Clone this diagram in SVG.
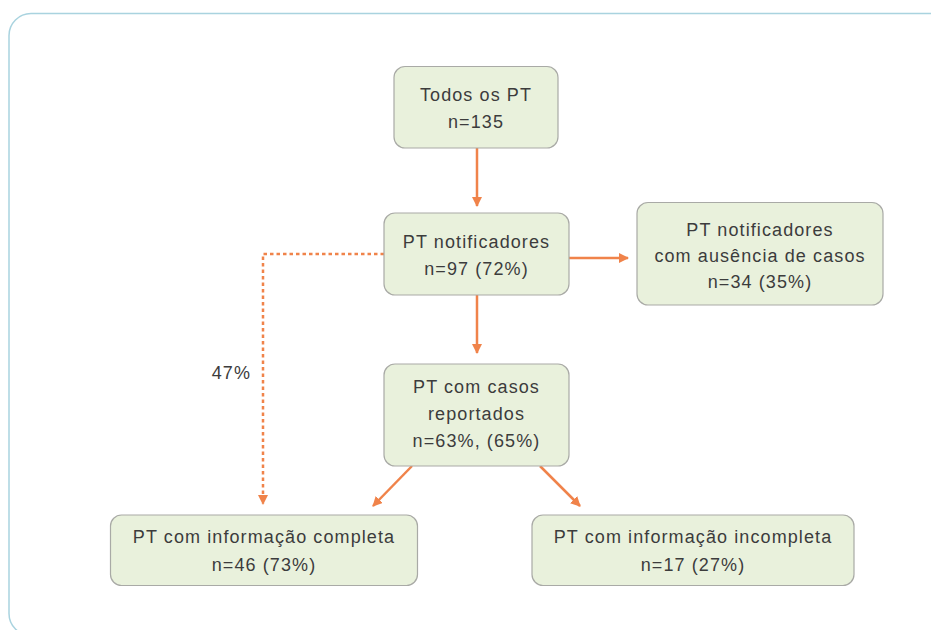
<svg xmlns="http://www.w3.org/2000/svg" width="931" height="630" viewBox="0 0 931 630">
<defs>
<style>
.box{fill:#e9f1dc;stroke:#a9aaa6;stroke-width:1.2}
.t{font-family:"Liberation Sans",Arial,sans-serif;font-size:18px;fill:#3c3c3c;text-anchor:middle;letter-spacing:1.1px}
.c{stroke:#f0834a;stroke-width:2.5;fill:none}
.d{stroke-dasharray:3.5 3}
</style>
<marker id="ah" viewBox="0 0 10 10" refX="9" refY="5" markerWidth="10" markerHeight="10" markerUnits="userSpaceOnUse" orient="auto">
<path d="M0,0 L10,5 L0,10 Z" fill="#f0834a"/>
</marker>
</defs>
<rect x="0" y="0" width="931" height="630" fill="#ffffff"/>
<rect x="9" y="13.5" width="960" height="622" rx="22" fill="none" stroke="#a9d3df" stroke-width="1.5"/>
<g id="connectors">
<line class="c" x1="477" y1="148" x2="477" y2="206" marker-end="url(#ah)"/>
<line class="c" x1="569" y1="258" x2="628" y2="258" marker-end="url(#ah)"/>
<line class="c" x1="477" y1="295" x2="477" y2="353" marker-end="url(#ah)"/>
<polyline class="c d" points="384,254 263,254 263,504" marker-end="url(#ah)"/>
<line class="c" x1="412" y1="466" x2="373" y2="506" marker-end="url(#ah)"/>
<line class="c" x1="540" y1="466" x2="580" y2="506" marker-end="url(#ah)"/>
<text class="t" x="251" y="379" style="text-anchor:end">47%</text>
</g>
<g id="todos">
<rect class="box" x="394" y="66.5" width="164" height="81.5" rx="11"/>
<text class="t" x="476" y="101">Todos os PT</text>
<text class="t" x="476" y="128">n=135</text>
</g>
<g id="notificadores">
<rect class="box" x="384" y="213" width="185" height="82" rx="11"/>
<text class="t" x="476.5" y="248">PT notificadores</text>
<text class="t" x="476.5" y="275">n=97 (72%)</text>
</g>
<g id="ausencia">
<rect class="box" x="637" y="202.5" width="246" height="102.5" rx="11"/>
<text class="t" x="760" y="236">PT notificadores</text>
<text class="t" x="760" y="262">com ausência de casos</text>
<text class="t" x="760" y="288">n=34 (35%)</text>
</g>
<g id="casos">
<rect class="box" x="384" y="364" width="185" height="102" rx="11"/>
<text class="t" x="476.5" y="393">PT com casos</text>
<text class="t" x="476.5" y="420">reportados</text>
<text class="t" x="476.5" y="447">n=63%, (65%)</text>
</g>
<g id="completa">
<rect class="box" x="110.5" y="515" width="307" height="70.5" rx="11"/>
<text class="t" x="264" y="543">PT com informação completa</text>
<text class="t" x="264" y="571">n=46 (73%)</text>
</g>
<g id="incompleta">
<rect class="box" x="532" y="515" width="322" height="70.5" rx="11"/>
<text class="t" x="693" y="543">PT com informação incompleta</text>
<text class="t" x="693" y="571">n=17 (27%)</text>
</g>
</svg>
